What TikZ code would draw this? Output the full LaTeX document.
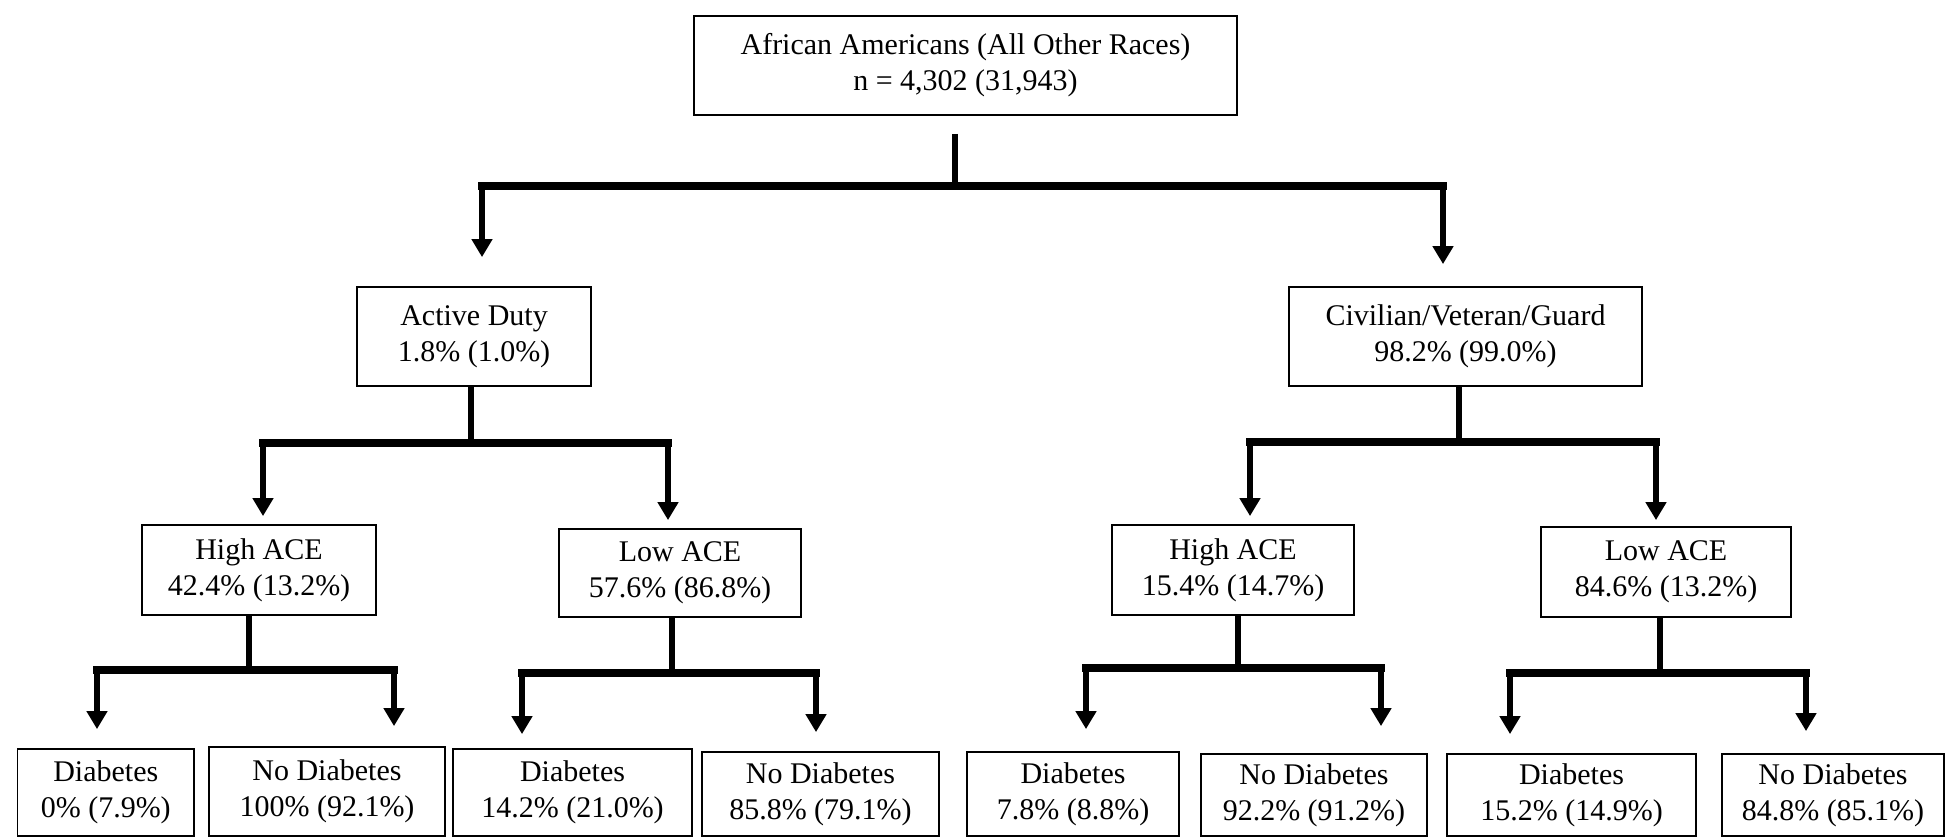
\documentclass[tikz,border=0pt]{standalone}
\usepackage{fontspec}
\setmainfont{Liberation Serif}
\usetikzlibrary{arrows.meta,calc}
\tikzset{
  box/.style={draw, line width=1.8pt, align=center, inner sep=0pt,
    font=\fontsize{30}{36}\selectfont},
  vline/.style={line width=6.5pt},
  hbar/.style={line width=8pt, line cap=rect},
  arr/.style={line width=6.5pt, -{Triangle[width=20pt,length=18pt]}}
}
\begin{document}
\begin{tikzpicture}[x=1pt,y=-1pt]
\useasboundingbox (0,0) rectangle (1946,838);
\fill[white] (0,0) rectangle (1946,838);
% nodes
\node[box, minimum width=543, minimum height=99] (root) at (965.5,65.5) {African Americans (All Other Races)\\n = 4,302 (31,943)};
\node[box, minimum width=234, minimum height=99] (ad) at (474,336.5) {Active Duty\\1.8\% (1.0\%)};
\node[box, minimum width=353, minimum height=99] (civ) at (1465.5,336.5) {Civilian/Veteran/Guard\\98.2\% (99.0\%)};
\node[box, minimum width=234, minimum height=90] (hL) at (259,570) {High ACE\\42.4\% (13.2\%)};
\node[box, minimum width=242, minimum height=88] (lL) at (680,573) {Low ACE\\57.6\% (86.8\%)};
\node[box, minimum width=242, minimum height=90] (hR) at (1233,570) {High ACE\\15.4\% (14.7\%)};
\node[box, minimum width=250, minimum height=90] (lR) at (1666,572) {Low ACE\\84.6\% (13.2\%)};
\node[box, minimum width=176.5, minimum height=87] (d1) at (105.75,792.5) {Diabetes\\0\% (7.9\%)};
\node[box, minimum width=236, minimum height=89] (n1) at (327,791.5) {No Diabetes\\100\% (92.1\%)};
\node[box, minimum width=239, minimum height=87] (d2) at (572.5,792.5) {Diabetes\\14.2\% (21.0\%)};
\node[box, minimum width=237, minimum height=84] (n2) at (820.5,794) {No Diabetes\\85.8\% (79.1\%)};
\node[box, minimum width=212, minimum height=84] (d3) at (1073,794) {Diabetes\\7.8\% (8.8\%)};
\node[box, minimum width=226, minimum height=82] (n3) at (1314,795) {No Diabetes\\92.2\% (91.2\%)};
\node[box, minimum width=249, minimum height=82] (d4) at (1571.5,795) {Diabetes\\15.2\% (14.9\%)};
\node[box, minimum width=222, minimum height=82] (n4) at (1833,795) {No Diabetes\\84.8\% (85.1\%)};
% bar junctions
\coordinate (b0L) at (482,186);   \coordinate (b0R) at (1443,186);
\coordinate (b1L) at (263,443);   \coordinate (b1R) at (668,443);
\coordinate (b2L) at (1250,442);  \coordinate (b2R) at (1656,442);
\coordinate (b3L) at (97,670);    \coordinate (b3R) at (394,670);
\coordinate (b4L) at (522,673);   \coordinate (b4R) at (816,673);
\coordinate (b5L) at (1086,668);  \coordinate (b5R) at (1381,668);
\coordinate (b6L) at (1510,673);  \coordinate (b6R) at (1806,673);
% stem tops
\coordinate (s0) at ($(root.south)+(-10.5,18)$);
\coordinate (s1) at ($(ad.south)+(-3,0)$);
\coordinate (s2) at ($(civ.south)+(-6.5,0)$);
\coordinate (s3) at ($(hL.south)+(-10,0)$);
\coordinate (s4) at ($(lL.south)+(-8,0)$);
\coordinate (s5) at ($(hR.south)+(5,0)$);
\coordinate (s6) at ($(lR.south)+(-6,0)$);
% level 0
\draw[vline] (s0) -- (s0 |- b0L);
\draw[hbar] (b0L) -- (b0R);
\draw[arr] (b0L) -- ($(b0L |- ad.north)+(0,-29)$);
\draw[arr] (b0R) -- ($(b0R |- civ.north)+(0,-22)$);
% Active duty
\draw[vline] (s1) -- (s1 |- b1L);
\draw[hbar] (b1L) -- (b1R);
\draw[arr] (b1L) -- ($(b1L |- hL.north)+(0,-8)$);
\draw[arr] (b1R) -- ($(b1R |- lL.north)+(0,-8)$);
% Civilian
\draw[vline] (s2) -- (s2 |- b2L);
\draw[hbar] (b2L) -- (b2R);
\draw[arr] (b2L) -- ($(b2L |- hR.north)+(0,-8)$);
\draw[arr] (b2R) -- ($(b2R |- lR.north)+(0,-6)$);
% High ACE left
\draw[vline] (s3) -- (s3 |- b3L);
\draw[hbar] (b3L) -- (b3R);
\draw[arr] (b3L) -- ($(b3L |- d1.north)+(0,-19)$);
\draw[arr] (b3R) -- ($(b3R |- n1.north)+(0,-20)$);
% Low ACE left
\draw[vline] (s4) -- (s4 |- b4L);
\draw[hbar] (b4L) -- (b4R);
\draw[arr] (b4L) -- ($(b4L |- d2.north)+(0,-14)$);
\draw[arr] (b4R) -- ($(b4R |- n2.north)+(0,-19)$);
% High ACE right
\draw[vline] (s5) -- (s5 |- b5L);
\draw[hbar] (b5L) -- (b5R);
\draw[arr] (b5L) -- ($(b5L |- d3.north)+(0,-22)$);
\draw[arr] (b5R) -- ($(b5R |- n3.north)+(0,-27)$);
% Low ACE right
\draw[vline] (s6) -- (s6 |- b6L);
\draw[hbar] (b6L) -- (b6R);
\draw[arr] (b6L) -- ($(b6L |- d4.north)+(0,-19)$);
\draw[arr] (b6R) -- ($(b6R |- n4.north)+(0,-22)$);
\end{tikzpicture}
\end{document}
